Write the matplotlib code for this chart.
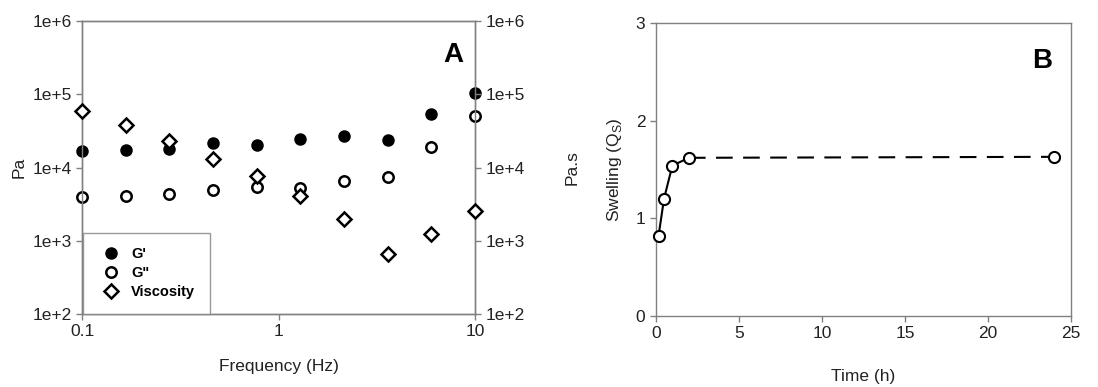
import numpy as np
import matplotlib.pyplot as plt
from matplotlib.ticker import FixedLocator, FuncFormatter, NullLocator

plt.rcParams['font.family'] = ['Liberation Sans', 'DejaVu Sans']

# rheology: frequency sweep
freq = [0.1, 0.167, 0.278, 0.464, 0.774, 1.29, 2.15, 3.59, 5.99, 10]
g_storage = [16800, 17400, 17900, 21800, 20500, 24300, 26900, 23800, 54000, 105000]
g_loss = [3950, 4080, 4350, 4870, 5350, 5300, 6600, 7310, 18900, 50200]
viscosity = [59400, 37600, 22700, 13100, 7550, 4080, 2010, 652, 1245, 2530]

# swelling kinetics
time_h = [0.17, 0.5, 1, 2, 24]
swelling = [0.82, 1.20, 1.54, 1.62, 1.63]

GREY = '#808080'
TXT = '#222222'


def style_axes(ax):
    for s in ax.spines.values():
        s.set_color(GREY)
        s.set_linewidth(1.0)
    ax.tick_params(colors=GREY, labelcolor=TXT, labelsize=12.5,
                   direction='out', length=4, width=1.0)


def sci(v, pos):
    return '1e+%d' % int(round(np.log10(v)))


fig = plt.figure(figsize=(10.98, 3.87), dpi=100)

# ---- panel A ----
ax1 = fig.add_axes([0.0747, 0.1886, 0.3579, 0.7571])
ax1.set_xscale('log')
ax1.set_yscale('log')
ax1.set_xlim(0.1, 10)
ax1.set_ylim(1e2, 1e6)
ax1.plot(freq, g_storage, 'o', ms=7.5, mfc='black', mec='black', mew=1.5,
         label="G'", clip_on=False, zorder=4)
ax1.plot(freq, g_loss, 'o', ms=7.5, mfc='white', mec='black', mew=1.8,
         label='G"', clip_on=False, zorder=4)

ax2 = ax1.twinx()
ax2.set_yscale('log')
ax2.set_ylim(1e2, 1e6)
ax2.plot(freq, viscosity, 'D', ms=7, mfc='white', mec='black', mew=1.8,
         clip_on=False, zorder=4)

for a in (ax1, ax2):
    style_axes(a)
    a.yaxis.set_major_locator(FixedLocator([1e2, 1e3, 1e4, 1e5, 1e6]))
    a.yaxis.set_major_formatter(FuncFormatter(sci))
    a.yaxis.set_minor_locator(NullLocator())
ax1.xaxis.set_major_locator(FixedLocator([0.1, 1, 10]))
ax1.xaxis.set_major_formatter(FuncFormatter(lambda v, p: '%g' % v))
ax1.xaxis.set_minor_locator(NullLocator())
ax1.set_xlabel('Frequency (Hz)', fontsize=12.5, color=TXT, labelpad=14)
ax1.set_ylabel('Pa', fontsize=12.5, color=TXT, labelpad=4)
ax2.set_ylabel('Pa.s', fontsize=12.5, color=TXT, labelpad=29)
ax1.text(0.945, 0.885, 'A', transform=ax1.transAxes, fontsize=20,
         fontweight='bold', ha='center', va='center', color='black')

h1, l1 = ax1.get_legend_handles_labels()
vis_handle = plt.Line2D([], [], ls='none', marker='D', ms=7, mfc='white',
                        mec='black', mew=1.8)
leg = ax2.legend(h1 + [vis_handle], l1 + ['Viscosity'], loc='lower left',
                 bbox_to_anchor=(0.003, 0.0), frameon=True, fancybox=False,
                 prop={'weight': 'bold', 'size': 10.5}, borderpad=1.0,
                 handlelength=1.8, handletextpad=0.5, labelspacing=0.35,
                 borderaxespad=0.0)
leg.get_frame().set_edgecolor(GREY)
leg.get_frame().set_linewidth(1.0)

# ---- panel B ----
ax3 = fig.add_axes([0.5972, 0.1842, 0.3782, 0.7556])
ax3.set_xlim(0, 25)
ax3.set_ylim(0, 3)
ax3.plot(time_h[:4], swelling[:4], '-', color='black', lw=1.5, zorder=2)
ax3.plot(time_h[3:], swelling[3:], '--', color='black', lw=1.5,
         dashes=(8, 5), zorder=2)
ax3.plot(time_h, swelling, 'o', ms=8, mfc='white', mec='black', mew=1.5,
         ls='none', zorder=3, clip_on=False)
style_axes(ax3)
ax3.set_xticks([0, 5, 10, 15, 20, 25])
ax3.set_yticks([0, 1, 2, 3])
ax3.set_xlabel('Time (h)', fontsize=12.5, color=TXT, labelpad=20)
ax3.set_ylabel(r'Swelling (Q$_\mathregular{S}$)', fontsize=12.5, color=TXT,
               labelpad=8)
ax3.text(0.93, 0.87, 'B', transform=ax3.transAxes, fontsize=20,
         fontweight='bold', ha='center', va='center', color='black')

fig.savefig('out.png', dpi=100)
